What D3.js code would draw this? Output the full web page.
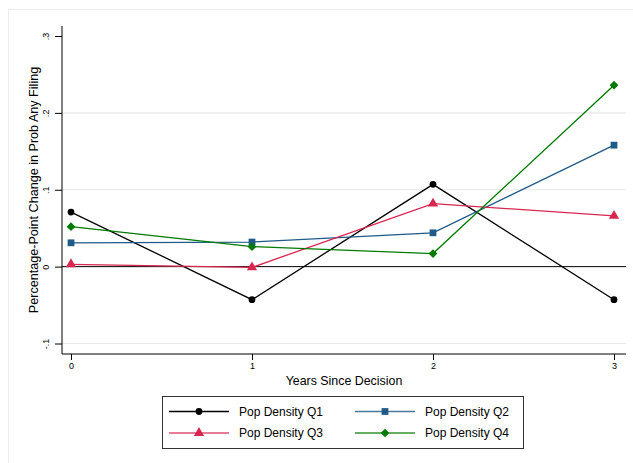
<!DOCTYPE html>
<html>
<head>
<meta charset="utf-8">
<script src="https://cdn.jsdelivr.net/npm/d3@7"></script>
<style>
  body { margin: 0; background: #fff; }
  svg { font-family: "Liberation Sans", Arial, Helvetica, sans-serif; }
</style>
</head>
<body>
<div id="chart"></div>
<script>
// data
const years = [0, 1, 2, 3];
const q1 = [0.071, -0.043, 0.107, -0.043];
const q2 = [0.031, 0.032, 0.044, 0.158];
const q3 = [0.003, -0.001, 0.082, 0.066];
const q4 = [0.052, 0.026, 0.017, 0.236];
const yTicks = [-0.1, 0, 0.1, 0.2, 0.3];
const yTickLabels = ["-.1", "0", ".1", ".2", ".3"];
const seriesNames = ["Pop Density Q1", "Pop Density Q2", "Pop Density Q3", "Pop Density Q4"];

// stata style diamond = square turned 45 degrees
const series = [
  { name: seriesNames[0], values: q1, color: "#000000", symbol: d3.symbolCircle, size: 36, rot: 0 },
  { name: seriesNames[1], values: q2, color: "#1f5a88", symbol: d3.symbolSquare, size: 46, rot: 0 },
  { name: seriesNames[2], values: q3, color: "#d7264f", symbol: d3.symbolTriangle, size: 46, rot: 0 },
  { name: seriesNames[3], values: q4, color: "#007a00", symbol: d3.symbolSquare, size: 38, rot: 45 }
];

const width = 633, height = 463;
const plot = { left: 62, right: 626, top: 26, bottom: 354 };

const svg = d3.select("#chart").append("svg")
  .attr("width", width)
  .attr("height", height);

// faint outer frame
svg.append("rect")
  .attr("x", 8.5).attr("y", 9.5)
  .attr("width", 700).attr("height", 500)
  .attr("fill", "none")
  .attr("stroke", "#ececec");

const x = d3.scaleLinear().domain([0, 3]).range([71, 614]);
const y = d3.scaleLinear().domain([-0.1, 0.3]).range([343.5, 36]);

// gridlines
svg.selectAll(".grid")
  .data(yTicks.filter(d => d !== 0 && d !== 0.3))
  .join("line")
  .attr("class", "grid")
  .attr("x1", plot.left).attr("x2", plot.right)
  .attr("y1", d => y(d)).attr("y2", d => y(d))
  .attr("stroke", "#e8e8e8")
  .attr("stroke-width", 1.2);

// zero line
svg.append("line")
  .attr("x1", plot.left).attr("x2", plot.right)
  .attr("y1", y(0)).attr("y2", y(0))
  .attr("stroke", "#000")
  .attr("stroke-width", 1);

// y axis
const yAxis = d3.axisLeft(y)
  .tickValues(yTicks)
  .tickFormat((d, i) => yTickLabels[i])
  .tickSize(7)
  .tickPadding(4);

const gy = svg.append("g")
  .attr("transform", `translate(${plot.left},0)`)
  .call(yAxis);
gy.select(".domain").attr("d", `M0,${plot.top}V${plot.bottom}`).attr("stroke", "#000");
gy.selectAll(".tick text")
  .attr("font-size", 9)
  .attr("fill", "#000")
  .attr("transform", "rotate(-90)")
  .attr("x", 0)
  .attr("y", -13)
  .attr("dy", "0")
  .attr("text-anchor", "middle");

// x axis
const xAxis = d3.axisBottom(x)
  .tickValues(years)
  .tickFormat(d3.format("d"))
  .tickSize(6)
  .tickPadding(3);

const gx = svg.append("g")
  .attr("transform", `translate(0,${plot.bottom})`)
  .call(xAxis);
gx.select(".domain").attr("d", `M${plot.left},0H${plot.right}`).attr("stroke", "#000");
gx.selectAll(".tick text")
  .attr("font-size", 9)
  .attr("fill", "#000");

// axis titles
svg.append("text")
  .attr("transform", `translate(38,${(plot.top + plot.bottom) / 2}) rotate(-90)`)
  .attr("text-anchor", "middle")
  .attr("font-size", 12.6)
  .text("Percentage-Point Change in Prob Any Filing");

svg.append("text")
  .attr("x", (plot.left + plot.right) / 2)
  .attr("y", 385)
  .attr("text-anchor", "middle")
  .attr("font-size", 12.4)
  .text("Years Since Decision");

// lines and markers
const line = d3.line()
  .x((d, i) => x(years[i]))
  .y(d => y(d));

series.forEach(s => {
  svg.append("path")
    .datum(s.values)
    .attr("d", line)
    .attr("fill", "none")
    .attr("stroke", s.color)
    .attr("stroke-width", 1.3);

  svg.selectAll(null)
    .data(s.values)
    .join("path")
    .attr("d", d3.symbol().type(s.symbol).size(s.size))
    .attr("transform", (d, i) => `translate(${x(years[i])},${y(d)}) rotate(${s.rot})`)
    .attr("fill", s.color);
});

// legend
const legend = svg.append("g");
legend.append("rect")
  .attr("x", 162.5).attr("y", 396.5)
  .attr("width", 361).attr("height", 52)
  .attr("fill", "#fff")
  .attr("stroke", "#333")
  .attr("stroke-width", 1);

series.forEach((s, i) => {
  const col = i % 2, row = Math.floor(i / 2);
  const lx = 169 + col * 186;
  const ly = 411.5 + row * 21.5;
  legend.append("line")
    .attr("x1", lx).attr("x2", lx + 60)
    .attr("y1", ly).attr("y2", ly)
    .attr("stroke", s.color)
    .attr("stroke-width", 1.6)
    .attr("opacity", s.color === "#000000" ? 1 : 0.8);
  legend.append("path")
    .attr("d", d3.symbol().type(s.symbol).size(s.size))
    .attr("transform", `translate(${lx + 30},${ly}) rotate(${s.rot})`)
    .attr("fill", s.color);
  legend.append("text")
    .attr("x", lx + 70)
    .attr("y", ly + 4)
    .attr("font-size", 12)
    .text(s.name);
});
</script>
</body>
</html>
